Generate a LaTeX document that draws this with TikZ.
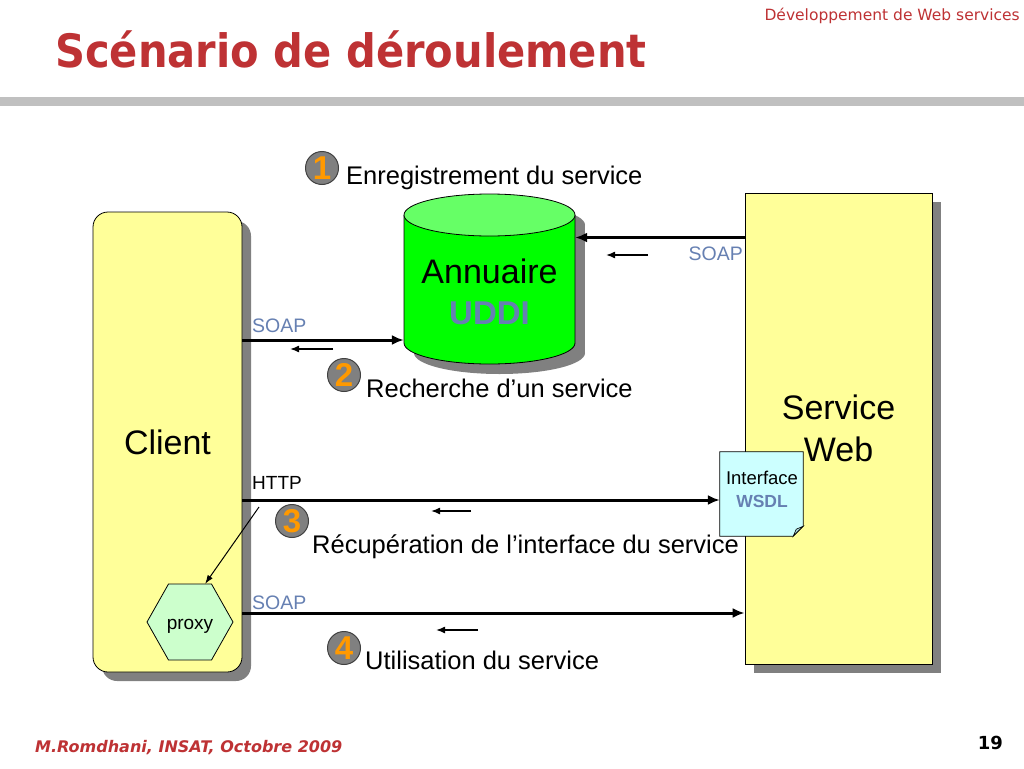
\documentclass[tikz,border=0pt]{standalone}
\usepackage{fontspec}
\setmainfont{Liberation Sans}
\newfontfamily\dejavu{DejaVu Sans}
\usetikzlibrary{arrows.meta}
\definecolor{titlered}{RGB}{190,50,52}
\definecolor{bargray}{RGB}{192,192,192}
\definecolor{shadowgray}{RGB}{128,128,128}
\definecolor{boxyellow}{RGB}{255,255,153}
\definecolor{uddigreen}{RGB}{0,255,0}
\definecolor{uddilight}{RGB}{102,255,102}
\definecolor{soapblue}{RGB}{102,128,178}
\definecolor{doccyan}{RGB}{204,255,255}
\definecolor{docfold}{RGB}{170,215,215}
\definecolor{proxygreen}{RGB}{204,255,204}
\definecolor{numgray}{RGB}{128,128,128}
\definecolor{numdark}{RGB}{64,64,64}
\definecolor{numorange}{RGB}{255,153,0}
\begin{document}
\begin{tikzpicture}[x=1pt,y=-1pt,
  lbl/.style={font=\fontsize{25.5}{30}\selectfont, inner sep=0, anchor=base west},
  soaplbl/.style={font=\fontsize{19.5}{22}\selectfont, text=soapblue, inner sep=0},
  numcircle/.style={circle, fill=numgray, draw=numdark, line width=1pt, minimum size=33pt, inner sep=0, text=numorange, font=\bfseries\fontsize{33}{33}\selectfont},
  bigtext/.style={font=\fontsize{34}{42}\selectfont, align=center},
  ybox/.style={draw=black, line width=0.8pt, fill=boxyellow},
  conn/.style={line width=3pt, -{Latex[length=12pt,width=10pt]}},
  backarrow/.style={line width=1.5pt, -{Latex[length=9pt,width=7pt]}},
  thinarrow/.style={line width=1pt, -{Latex[length=9pt,width=6pt]}}
]
\useasboundingbox (0,0) rectangle (1024,768);
\fill[white] (0,0) rectangle (1024,768);

% header
\node[anchor=base east, inner sep=0, text=titlered, font=\dejavu\fontsize{15.5}{18}\selectfont] (hdr) at (1020,21) {Développement de Web services};
\node[anchor=base west, inner sep=0, text=titlered, font=\dejavu\bfseries\fontsize{46}{52}\selectfont] (title) at (55,67) {\scalebox{0.905}[1]{Scénario de déroulement}};
\fill[bargray] (0,97) rectangle (1024,106);

% footer
\node[anchor=base west, inner sep=0, text=titlered, font=\dejavu\bfseries\itshape\fontsize{16}{18}\selectfont] (foot) at (35,752) {M.Romdhani, INSAT, Octobre 2009};
\node[anchor=base east, inner sep=0, font=\dejavu\bfseries\fontsize{18}{20}\selectfont] (page) at (1003,749) {19};

% client box
\fill[shadowgray, rounded corners=15pt] (102,221) rectangle (251,681);
\node[ybox, rounded corners=15pt, minimum width=149pt, minimum height=460pt, inner sep=0, bigtext] (client) at (167.5,442) {Client};

% service web box
\fill[shadowgray] (754,202) rectangle (941,673);
\node[ybox, minimum width=187pt, minimum height=471pt, inner sep=0, bigtext] (sw) at (838.5,428.5) {\raisebox{-3pt}{Service}\\\raisebox{-3pt}{Web}};

% UDDI cylinder
\fill[shadowgray] (414,225) rectangle (585,353);
\fill[shadowgray] (499.5,353) ellipse [x radius=85.5, y radius=21];
\fill[shadowgray] (499.5,225) ellipse [x radius=85.5, y radius=21];
\fill[uddigreen] (404,215) rectangle (575,343);
\fill[uddigreen] (489.5,343) ellipse [x radius=85.5, y radius=21];
\draw[line width=0.8pt] (404,215) -- (404,343) arc[start angle=180, end angle=0, x radius=85.5, y radius=21] -- (575,215);
\draw[line width=0.8pt, fill=uddilight] (489.5,215) ellipse [x radius=85.5, y radius=21];
\node[minimum width=171pt, minimum height=128pt, inner sep=0] (uddi) at (489.5,279) {};
\node[font=\fontsize{34}{40}\selectfont, inner sep=0, anchor=base] (annu) at (489.5,283) {Annuaire};
\node[font=\bfseries\fontsize{33}{36}\selectfont, text=soapblue, inner sep=0, anchor=base] (uddilbl) at (489.5,324) {UDDI};

% WSDL document
\node[minimum width=83pt, minimum height=84pt, inner sep=0] (wsdl) at (761.5,494) {};
\draw[line width=0.8pt, fill=doccyan] (wsdl.north west) -- (wsdl.north east) -- ([yshift=10pt]wsdl.south east) -- ([xshift=-10pt]wsdl.south east) -- (wsdl.south west) -- cycle;
\draw[line width=0.6pt, fill=docfold] ([xshift=-10pt]wsdl.south east) -- ([xshift=-7pt,yshift=7pt]wsdl.south east) -- ([yshift=10pt]wsdl.south east) -- cycle;
\node[font=\fontsize{18.5}{20}\selectfont, inner sep=0, anchor=base] (intf) at (762,484) {Interface};
\node[font=\bfseries\fontsize{17.5}{20}\selectfont, text=soapblue, inner sep=0, anchor=base] (wsdllbl) at (762,507) {WSDL};

% proxy hexagon
\draw[line width=0.8pt, fill=proxygreen] (147,622) -- (168.5,584) -- (211.5,584) -- (233,622) -- (211.5,660) -- (168.5,660) -- cycle;
\node[font=\fontsize{19}{20}\selectfont, inner sep=0, anchor=base] (proxy) at (190,629) {proxy};

% y levels
\coordinate (y1) at (0,237.5);
\coordinate (y2) at (0,340);
\coordinate (y3) at (0,500);
\coordinate (y4) at (0,613);

% connectors
\draw[conn] (sw.west |- y1) -- (uddi.east |- y1);
\draw[conn] (client.east |- y2) -- (uddi.west |- y2);
\draw[conn] (client.east |- y3) -- (wsdl.west |- y3);
\draw[conn] (client.east |- y4) -- (sw.west |- y4);

% small return arrows
\coordinate (r1a) at (648,255); \coordinate (r1b) at (606,255);
\coordinate (r2a) at (333,349); \coordinate (r2b) at (290,349);
\coordinate (r3a) at (471,511); \coordinate (r3b) at (431,511);
\coordinate (r4a) at (478,630); \coordinate (r4b) at (436,630);
\draw[backarrow] (r1a) -- (r1b);
\draw[backarrow] (r2a) -- (r2b);
\draw[backarrow] (r3a) -- (r3b);
\draw[backarrow] (r4a) -- (r4b);

% http to proxy
\coordinate (hstart) at (259,507);
\coordinate (ptop) at (205,584);
\draw[thinarrow] (hstart) -- (ptop);

% protocol labels
\node[soaplbl, anchor=base east] (soap1) at (743,260) {SOAP};
\node[soaplbl, anchor=base west] (soap2) at (252,332) {SOAP};
\node[font=\fontsize{19}{22}\selectfont, inner sep=0, anchor=base west] (http) at (252,489) {HTTP};
\node[soaplbl, anchor=base west] (soap4) at (252,609) {SOAP};

% step circles and labels
\node[numcircle] (n1) at (322,168) {1};
\node[numcircle] (n2) at (344,375) {2};
\node[numcircle] (n3) at (292,521) {3};
\node[numcircle] (n4) at (344,648) {4};
\node[lbl] (t1) at (346,184) {Enregistrement du service};
\node[lbl] (t2) at (366,397) {Recherche d’un service};
\node[lbl] (t3) at (312,553) {Récupération de l’interface du service};
\node[lbl] (t4) at (365,669) {Utilisation du service};
\end{tikzpicture}
\end{document}
